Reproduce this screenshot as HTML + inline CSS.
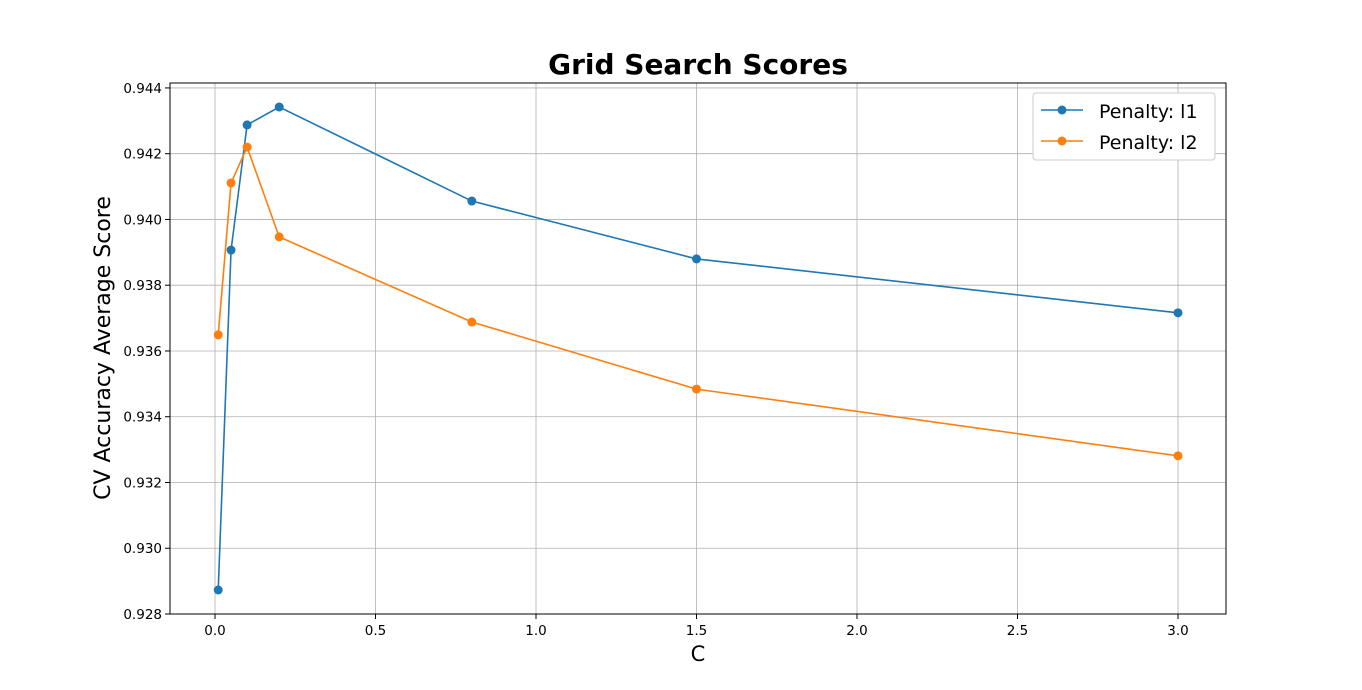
<!DOCTYPE html>
<html><head><meta charset="utf-8"><style>
html,body{margin:0;padding:0;background:#fff;}
svg{display:block;font-family:"DejaVu Sans","Liberation Sans",sans-serif;}
</style></head><body>
<svg id="chart" width="1362" height="690">
<text x="698" y="74" text-anchor="middle" font-size="28" font-weight="bold">Grid Search Scores</text>
<g id="grid"></g>
<g id="ticks"></g>
<g id="series"></g>
<rect x="170" y="83" width="1056" height="531" fill="none" stroke="#000" stroke-width="1"/>
<text x="698" y="661" text-anchor="middle" font-size="21">C</text>
<text transform="translate(110,348) rotate(-90)" text-anchor="middle" font-size="22">CV Accuracy Average Score</text>
<g>
<rect x="1033" y="93" width="182" height="67" rx="3" fill="#fff" stroke="#ccc"/>
<g>
<line x1="1041" y1="110" x2="1083" y2="110" stroke="#1f77b4" stroke-width="1.6"/><circle cx="1062" cy="110" r="4.5" fill="#1f77b4"/>
<text x="1099" y="118" font-size="19">Penalty: l1</text></g>
<g>
<line x1="1041" y1="141" x2="1083" y2="141" stroke="#ff7f0e" stroke-width="1.6"/><circle cx="1062" cy="141" r="4.5" fill="#ff7f0e"/>
<text x="1099" y="149" font-size="19">Penalty: l2</text></g>
</g>
</svg>
<script>
const cValues = [0.01, 0.05, 0.1, 0.2, 0.8, 1.5, 3.0];
const l1Scores = [0.92873, 0.93907, 0.942875, 0.94342, 0.94056, 0.9388, 0.93716];
const l2Scores = [0.93649, 0.94111, 0.9422, 0.93947, 0.93688, 0.93484, 0.93281];
const xTicks = [0.0, 0.5, 1.0, 1.5, 2.0, 2.5, 3.0];
const xTickLabels = ["0.0","0.5","1.0","1.5","2.0","2.5","3.0"];
const yTicks = [0.928,0.930,0.932,0.934,0.936,0.938,0.940,0.942,0.944];
const yTickLabels = ["0.928","0.930","0.932","0.934","0.936","0.938","0.940","0.942","0.944"];

const X0=170,X1=1226,Y0=614,Y1=83;
const xMin=-0.1402,xMax=3.1495,yMin=0.928,yMax=0.94415;
const sx=v=>X0+(v-xMin)/(xMax-xMin)*(X1-X0);
const sy=v=>Y0-(v-yMin)/(yMax-yMin)*(Y0-Y1);
const NS="http://www.w3.org/2000/svg";
function mk(tag,attrs,parent){const e=document.createElementNS(NS,tag);for(const k in attrs)e.setAttribute(k,attrs[k]);parent.appendChild(e);return e;}
const grid=document.getElementById('grid'),ticks=document.getElementById('ticks'),series=document.getElementById('series');
xTicks.forEach((t,i)=>{const x=sx(t);
 const g=mk('line',{x1:x,x2:x,y1:Y1,y2:Y0,stroke:'#b0b0b0','stroke-width':0.8},grid);
 
 
 mk('line',{x1:x,x2:x,y1:Y0,y2:Y0+5,stroke:'#000'},ticks);
 const tx=mk('text',{x:x,y:Y0+21,'text-anchor':'middle','font-size':13.5},ticks);tx.textContent=xTickLabels[i];
 
 
});
yTicks.forEach((t,i)=>{const y=sy(t);
 const g=mk('line',{x1:X0,x2:X1,y1:y,y2:y,stroke:'#b0b0b0','stroke-width':0.8},grid);
 
 
 mk('line',{x1:X0-5,x2:X0,y1:y,y2:y,stroke:'#000'},ticks);
 const tx=mk('text',{x:X0-8,y:y+5,'text-anchor':'end','font-size':13.5},ticks);tx.textContent=yTickLabels[i];
 
 
});
function drawSeries(vals,color,name){
 const p=mk('polyline',{points:cValues.map((c,i)=>sx(c)+','+sy(vals[i])).join(' '),fill:'none',stroke:color,'stroke-width':1.6},series);
 
 
 cValues.forEach((c,i)=>{const m=mk('circle',{cx:sx(c),cy:sy(vals[i]),r:4.5,fill:color},series);
  
  
 });
}
drawSeries(l1Scores,'#1f77b4','penalty-l1');
drawSeries(l2Scores,'#ff7f0e','penalty-l2');
</script>
</body></html>
